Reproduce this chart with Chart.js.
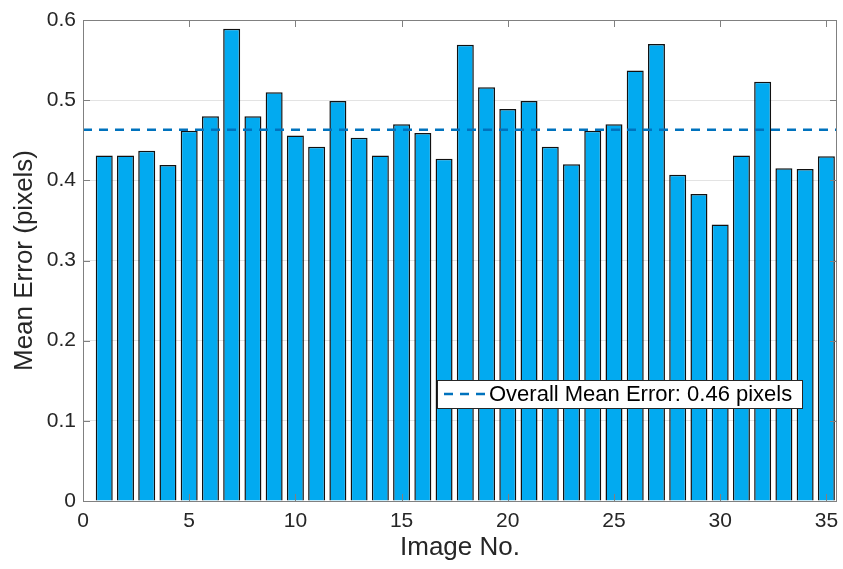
<!DOCTYPE html>
<html>
<head>
<meta charset="utf-8">
<script src="https://cdn.jsdelivr.net/npm/chart.js@4/dist/chart.umd.min.js"></script>
<style>
html,body{margin:0;padding:0;background:#fff;}
#wrap{width:843px;height:569px;position:relative;}
</style>
</head>
<body>
<div id="wrap"><canvas id="c" width="843" height="569"></canvas></div>
<script>
const imageNo = [1,2,3,4,5,6,7,8,9,10,11,12,13,14,15,16,17,18,19,20,21,22,23,24,25,26,27,28,29,30,31,32,33,34,35];
const meanError = [0.431,0.431,0.437,0.419,0.462,0.480,0.589,0.480,0.510,0.456,0.442,0.499,0.453,0.431,0.470,0.459,0.427,0.569,0.516,0.489,0.499,0.442,0.420,0.462,0.470,0.537,0.570,0.407,0.383,0.345,0.431,0.523,0.415,0.414,0.430];
const overallMean = 0.463;
const xTicks = [0,5,10,15,20,25,30,35];
const yTicks = [0,0.1,0.2,0.3,0.4,0.5,0.6];
const legendLabel = 'Overall Mean Error: 0.46 pixels';

const FONT = 'Arial, "Liberation Sans", Helvetica, sans-serif';
const DASH = [9,7];
const LINE_COLOR = '#0072bd';

const framePlugin = {
  id: 'frame',
  afterDatasetsDraw(chart) {
    const {ctx, chartArea: a, scales} = chart;
    ctx.save();
    ctx.strokeStyle = '#808080';
    ctx.lineWidth = 1;
    ctx.strokeRect(a.left + 0.5, a.top + 0.5, a.right - a.left - 1, a.bottom - a.top);
    ctx.beginPath();
    const tl = 7;
    xTicks.forEach(v => {
      const x = Math.round(scales.x.getPixelForValue(v)) + 0.5;
      ctx.moveTo(x, a.bottom); ctx.lineTo(x, a.bottom - tl);
      ctx.moveTo(x, a.top); ctx.lineTo(x, a.top + tl);
    });
    yTicks.forEach(v => {
      const y = Math.round(scales.y.getPixelForValue(v)) + 0.5;
      ctx.moveTo(a.left, y); ctx.lineTo(a.left + tl, y);
      ctx.moveTo(a.right, y); ctx.lineTo(a.right - tl, y);
    });
    ctx.stroke();
    // legend box
    const bx = a.left + 354, by = 380, bw = 365, bh = 28;
    ctx.fillStyle = '#fff';
    ctx.fillRect(bx, by, bw, bh);
    ctx.strokeStyle = '#262626';
    ctx.lineWidth = 1;
    ctx.strokeRect(bx + 0.5, by + 0.5, bw, bh);
    ctx.strokeStyle = LINE_COLOR;
    ctx.lineWidth = 2.5;
    ctx.setLineDash(DASH);
    ctx.beginPath();
    ctx.moveTo(bx + 7, by + bh / 2);
    ctx.lineTo(bx + 52, by + bh / 2);
    ctx.stroke();
    ctx.setLineDash([]);
    ctx.fillStyle = '#000';
    ctx.font = '22px ' + FONT;
    ctx.textBaseline = 'middle';
    ctx.textAlign = 'left';
    ctx.fillText(legendLabel, bx + 52, by + bh / 2 + 1);
    ctx.restore();
  }
};

new Chart(document.getElementById('c'), {
  data: {
    datasets: [
      {
        type: 'line',
        label: legendLabel,
        data: [{x: 0, y: overallMean}, {x: 35.5, y: overallMean}],
        borderColor: LINE_COLOR,
        borderWidth: 2.5,
        borderDash: DASH,
        pointRadius: 0,
        order: 1
      },
      {
        type: 'bar',
        label: 'Mean Error',
        data: imageNo.map((n, i) => ({x: n, y: meanError[i]})),
        backgroundColor: '#02aaf0',
        borderColor: '#111111',
        borderWidth: 1.5,
        barPercentage: 0.8,
        categoryPercentage: 1.0,
        order: 2
      }
    ]
  },
  options: {
    responsive: false,
    animation: false,
    layout: {padding: {left: 0, right: 6, top: 20, bottom: 0}},
    plugins: {legend: {display: false}, tooltip: {enabled: false}},
    scales: {
      x: {
        type: 'linear',
        min: 0, max: 35.5,
        offset: false,
        afterBuildTicks: s => { s.ticks = xTicks.map(v => ({value: v})); },
        afterFit: s => { s.height = 68; s.paddingRight = 0; s.paddingLeft = 0; },
        grid: {display: false, drawTicks: false},
        border: {display: false},
        ticks: {color: '#262626', font: {size: 21, family: FONT}, padding: 8, maxRotation: 0, autoSkip: false},
        title: {display: true, text: 'Image No.', color: '#262626', font: {size: 26, family: FONT}, padding: {top: 0, bottom: 6}}
      },
      y: {
        type: 'linear',
        min: 0, max: 0.6,
        afterBuildTicks: s => { s.ticks = yTicks.map(v => ({value: v})); },
        afterFit: s => { s.width = 83; },
        grid: {color: '#e3e3e3', drawTicks: false, lineWidth: 1},
        border: {display: false},
        ticks: {color: '#262626', font: {size: 21, family: FONT}, padding: 7, callback: v => String(v)},
        title: {display: true, text: 'Mean Error (pixels)', color: '#262626', font: {size: 26, family: FONT}, padding: {top: 9, bottom: 0}}
      }
    }
  },
  plugins: [framePlugin]
});
</script>
</body>
</html>
